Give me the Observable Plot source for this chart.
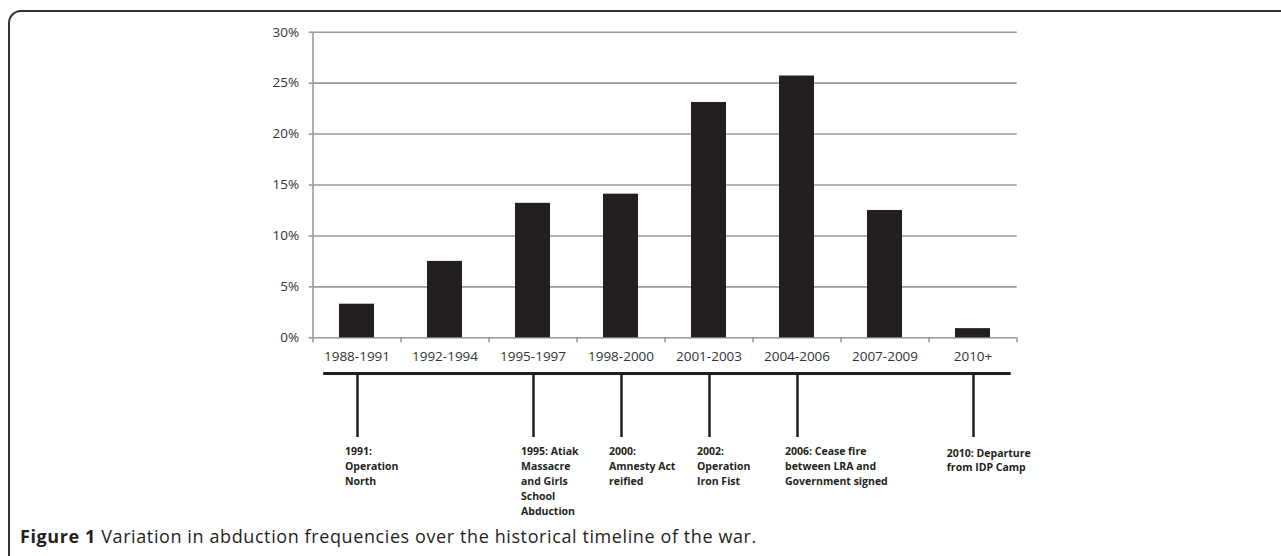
<!DOCTYPE html>
<html>
<head>
<meta charset="utf-8">
<script src="https://cdn.jsdelivr.net/npm/d3@7"></script>
<script src="https://cdn.jsdelivr.net/npm/@observablehq/plot@0.6"></script>
<style>
  html, body { margin: 0; padding: 0; background: #fff; width: 1281px; height: 556px; overflow: hidden; }
  #frame { position: absolute; left: 8px; top: 10px; width: 1400px; height: 700px;
    border-top: 2px solid #333; border-left: 2px solid #333; border-top-left-radius: 13px; box-sizing: border-box; }
  #chart { position: absolute; left: 0; top: 0; }
  #timeline { position: absolute; left: 0; top: 365px; }
  #caption { position: absolute; left: 20px; top: 527px; font-family: "Open Sans", sans-serif; font-size: 18px;
    letter-spacing: 0.6px; line-height: 18px; color: #231f20; white-space: nowrap; }
  #caption b { font-weight: 700; }
</style>
</head>
<body>
<div id="frame"></div>
<div id="chart"></div>
<div id="timeline"></div>
<div id="caption"><b>Figure 1</b> Variation in abduction frequencies over the historical timeline of the war.</div>
<script>
const periods = ["1988-1991", "1992-1994", "1995-1997", "1998-2000", "2001-2003", "2004-2006", "2007-2009", "2010+"];
const shares = [0.033, 0.075, 0.132, 0.141, 0.231, 0.257, 0.125, 0.009];
const yTicks = [0, 0.05, 0.10, 0.15, 0.20, 0.25, 0.30];
const eventPeriods = ["1988-1991", "1995-1997", "1998-2000", "2001-2003", "2004-2006", "2010+"];
const eventLabels = [
  "1991:\nOperation\nNorth",
  "1995: Atiak\nMassacre\nand Girls\nSchool\nAbduction",
  "2000:\nAmnesty Act\nreified",
  "2002:\nOperation\nIron Fist",
  "2006: Cease fire\nbetween LRA and\nGovernment signed",
  "2010: Departure\nfrom IDP Camp"
];

const bars = periods.map((p, i) => ({period: p, share: shares[i]}));
const events = eventPeriods.map((p, i) => ({period: p, label: eventLabels[i]}));

const W = 1281, ML = 312.7, MR = 264.3;
const step = (W - ML - MR) / periods.length;
const grey = "#9a9a9a";
const ink = "#231f20";

const chart = Plot.plot({
  width: W, height: 365,
  marginLeft: ML, marginRight: MR, marginTop: 31.7, marginBottom: 27.7,
  style: {fontFamily: "Open Sans, sans-serif", fontSize: "13px", color: "#333", background: "transparent", overflow: "visible"},
  x: {domain: periods, paddingInner: 0.6, paddingOuter: 0.3, axis: null, label: null},
  y: {domain: [0, 0.30], axis: null, label: null},
  marks: [
    Plot.ruleY(yTicks, {stroke: grey, strokeWidth: 1.6}),
    Plot.ruleX([periods[0]], {dx: -step / 2, y1: 0.30, y2: 0, insetBottom: -5, stroke: grey, strokeWidth: 1.6}),
    Plot.ruleX(periods.slice(1), {dx: -step / 2, y1: 0, y2: 0, insetBottom: -5, stroke: grey, strokeWidth: 1.6}),
    Plot.ruleX([periods[periods.length - 1]], {dx: step / 2, y1: 0, y2: 0, insetBottom: -5, stroke: grey, strokeWidth: 1.6}),
    Plot.axisY({ticks: yTicks, tickFormat: d3.format(".0%"), tickSize: 4, tickPadding: 10, stroke: grey, strokeWidth: 1.6, fontSize: 13.5, fill: "#333", label: null}),
    Plot.axisX({tickSize: 0, tickPadding: 14, fontSize: 13.5, fill: "#333", label: null}),
    Plot.barY(bars, {x: "period", y: "share", fill: ink})
  ]
});
document.getElementById("chart").appendChild(chart);

const timeline = Plot.plot({
  width: W, height: 150,
  marginLeft: ML, marginRight: MR, marginTop: 8, marginBottom: 78,
  style: {fontFamily: "Open Sans, sans-serif", fontSize: "10.5px", color: ink, background: "transparent", overflow: "visible"},
  x: {domain: periods, paddingInner: 0.6, paddingOuter: 0.3, axis: null, label: null},
  y: {domain: [0, 1], axis: null, label: null},
  marks: [
    Plot.ruleX(events, {x: "period", stroke: ink, strokeWidth: 2.5}),
    Plot.ruleY([1], {insetLeft: 10.5, insetRight: 6, stroke: ink, strokeWidth: 2.8}),
    Plot.text(events.filter(d => d.period !== "2010+"), {x: "period", y: 0, text: "label", textAnchor: "start", lineAnchor: "top",
      dx: -12.5, dy: 7, fontWeight: "bold", fontSize: 10.5, lineHeight: 1.42, fill: ink}),
    Plot.text(events.filter(d => d.period === "2010+"), {x: "period", y: 0, text: "label", textAnchor: "start", lineAnchor: "top",
      dx: -26.7, dy: 8.5, fontWeight: "bold", fontSize: 10.5, lineHeight: 1.42, fill: ink})
  ]
});
document.getElementById("timeline").appendChild(timeline);
</script>
</body>
</html>
